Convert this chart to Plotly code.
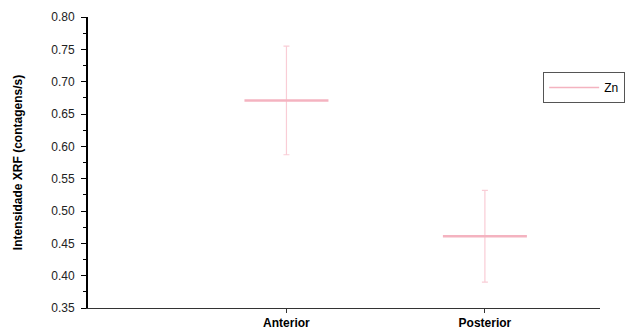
import plotly.graph_objects as go

categories = ["Anterior", "Posterior"]
positions = [1, 2]
means = [0.671, 0.461]
errors = [0.084, 0.071]
y_ticks = [0.35, 0.40, 0.45, 0.50, 0.55, 0.60, 0.65, 0.70, 0.75, 0.80]
series_name = "Zn"

fig = go.Figure()
fig.add_trace(go.Scatter(
    x=positions, y=means, mode="markers",
    marker=dict(symbol="line-ew", size=60, line=dict(color="#F4B3C0", width=2.5), color="#F4B3C0"),
    error_y=dict(type="data", array=errors, visible=True, color="#F9CDD6", thickness=1.2, width=3),
    showlegend=False, hoverinfo="skip",
))
fig.add_trace(go.Scatter(
    x=[None], y=[None], mode="lines", name=series_name,
    line=dict(color="#F4B3C0", width=1.5),
))

fig.update_layout(
    width=640, height=333,
    margin=dict(l=80, r=48, t=9, b=33),
    plot_bgcolor="white", paper_bgcolor="white",
    font=dict(family="Liberation Sans, Arial", color="black", size=11),
    legend=dict(x=0.889, y=0.811, xanchor="left", yanchor="top",
                bordercolor="#555555", borderwidth=1, bgcolor="white",
                font=dict(size=12), itemwidth=50),
    xaxis=dict(range=[0, 2.58], tickvals=positions, ticktext=categories, automargin=False,
               showgrid=False, zeroline=False, showline=True, linecolor="#333333", linewidth=1,
               ticks="outside", ticklen=4, tickcolor="#333333",
               tickfont=dict(size=12, family="Liberation Sans, Arial", weight="bold")),
    yaxis=dict(range=[0.35, 0.80], tickvals=y_ticks, ticktext=[f"{v:.2f}" for v in y_ticks],
               automargin=False, ticklabelstandoff=4,
               showgrid=False, zeroline=False, showline=True, linecolor="black", linewidth=2,
               ticks="outside", ticklen=5, tickcolor="black", tickfont=dict(size=12, color="#222222"),
               minor=dict(dtick=0.025, tick0=0.35, ticks="outside", ticklen=3, tickcolor="black"),
               title=dict(text="Intensidade XRF (contagens/s)", font=dict(size=12, weight="bold"), standoff=26)),
)

fig.write_html("out.html")
